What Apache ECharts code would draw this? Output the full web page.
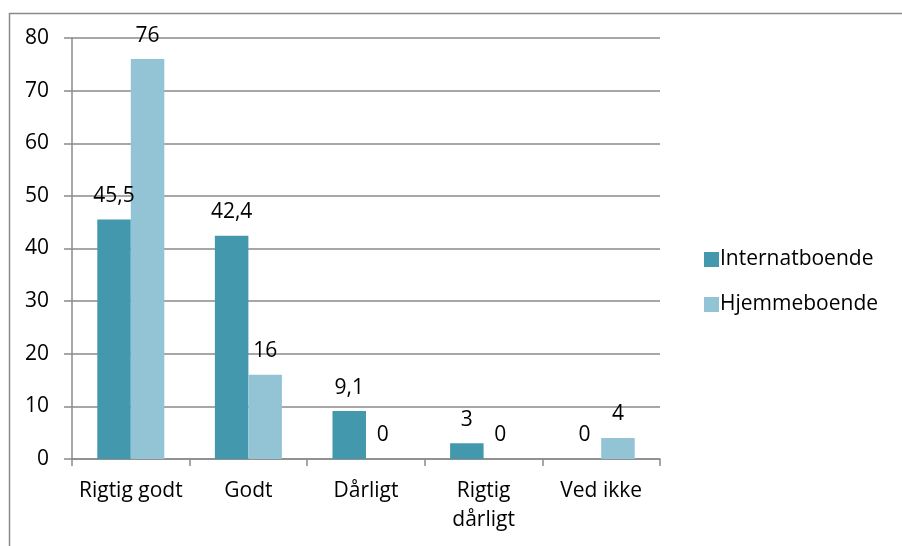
<!DOCTYPE html>
<html>
<head>
<meta charset="utf-8">
<script src="https://cdn.jsdelivr.net/npm/echarts@6/dist/echarts.min.js"></script>
<style>
  html, body { margin: 0; padding: 0; background: #fff; }
  #chart { width: 902px; height: 546px; }
</style>
</head>
<body>
<div id="chart"></div>
<script>
var categories = ['Rigtig godt', 'Godt', 'Dårligt', 'Rigtig\ndårligt', 'Ved ikke']
var seriesNames = ['Internatboende', 'Hjemmeboende']
var internat = [45.5, 42.4, 9.1, 3, 0]
var hjemme = [76, 16, 0, 0, 4]
var yTicks = [0, 10, 20, 30, 40, 50, 60, 70, 80]

var font = '"Open Sans", "DejaVu Sans", sans-serif'
var gray = '#8a8a8a'
var colors = ['#4398ae', '#93c4d6']

var myChart = echarts.init(document.getElementById('chart'))

function makeSeries(name, data, color) {
  return {
    name: name,
    type: 'bar',
    data: data,
    barGap: '0%',
    barCategoryGap: '43%',
    itemStyle: { color: color },
    label: {
      show: true,
      position: 'top',
      distance: 13,
      color: '#000',
      fontFamily: font,
      fontSize: 21,
      formatter: function (p) {
        return String(p.value).replace('.', ',')
      },
    },
  }
}

var option = {
  backgroundColor: '#fff',
  animation: false,
  color: colors,
  graphic: [
    {
      type: 'rect',
      left: 7,
      top: 11,
      shape: { width: 1000, height: 1000 },
      style: { fill: 'none', stroke: gray, lineWidth: 1.5 },
      silent: true,
    },
  ],
  legend: {
    orient: 'vertical',
    left: 699,
    top: 244,
    itemWidth: 15,
    itemHeight: 15,
    itemGap: 24,
    icon: 'rect',
    data: seriesNames,
    textStyle: { fontFamily: font, fontSize: 21, color: '#000', padding: [0, 0, 0, -4] },
  },
  grid: {
    left: 72,
    right: 242,
    top: 38,
    bottom: 87,
    containLabel: false,
  },
  xAxis: {
    type: 'category',
    data: categories,
    axisLine: { show: true, lineStyle: { color: gray, width: 1.5 } },
    axisTick: { show: true, length: 7, lineStyle: { color: gray, width: 1.5 } },
    axisLabel: {
      color: '#000',
      fontFamily: font,
      fontSize: 21,
      lineHeight: 29,
      margin: 18,
      interval: 0,
    },
  },
  yAxis: {
    type: 'value',
    min: yTicks[0],
    max: yTicks[yTicks.length - 1],
    interval: 10,
    axisLine: { show: true, lineStyle: { color: gray, width: 1.5 } },
    axisTick: { show: true, length: 8, lineStyle: { color: gray, width: 1.5 } },
    axisLabel: {
      color: '#000',
      fontFamily: font,
      fontSize: 21,
      margin: 23,
    },
    splitLine: { show: true, lineStyle: { color: gray, width: 1.5 } },
  },
  series: [
    makeSeries(seriesNames[0], internat, colors[0]),
    makeSeries(seriesNames[1], hjemme, colors[1]),
  ],
}

myChart.setOption(option)
</script>
</body>
</html>
